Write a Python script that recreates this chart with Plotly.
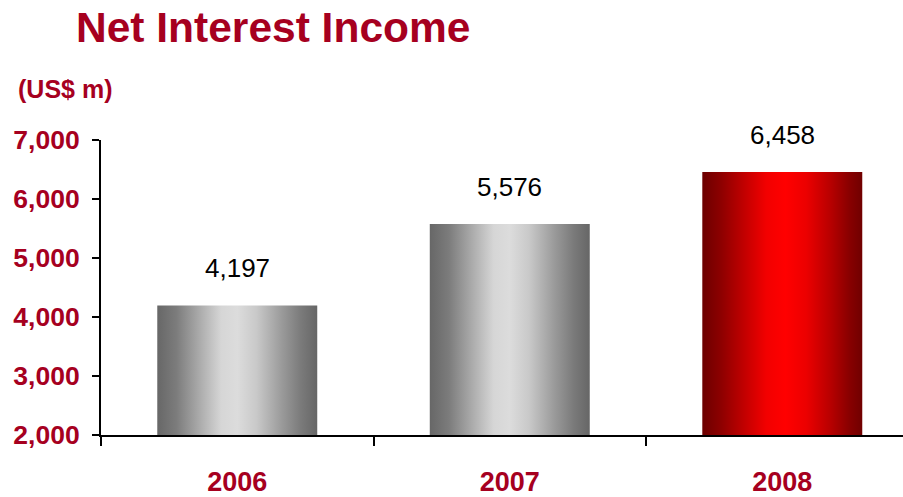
import plotly.graph_objects as go

# Net interest income by year (US$ m)
years = ["2006", "2007", "2008"]
income = [4197, 5576, 6458]
y_ticks = [2000, 3000, 4000, 5000, 6000, 7000]

DARK_RED = "#A6001F"
FONT = "Liberation Sans"
BAR_HALF = 0.2935
BASE = y_ticks[0]

grey_scale = [
    [0.0, "#676767"], [0.12, "#7c7c7c"], [0.28, "#b0b0b0"], [0.40, "#d6d6d6"],
    [0.50, "#dcdcdc"], [0.62, "#c9c9c9"], [0.78, "#9a9a9a"], [0.90, "#7a7a7a"],
    [1.0, "#666666"],
]
red_scale = [
    [0.0, "#6c0000"], [0.12, "#8e0000"], [0.28, "#c80000"], [0.40, "#f20000"],
    [0.52, "#ff0000"], [0.65, "#ec0000"], [0.80, "#b80000"], [0.92, "#880000"],
    [1.0, "#700000"],
]

fig = go.Figure()

# Cylinder-shaded bars: filled rectangles with a horizontal gradient
for i, (yr, val) in enumerate(zip(years, income)):
    scale = red_scale if yr == "2008" else grey_scale
    fig.add_trace(go.Scatter(
        x=[i - BAR_HALF, i + BAR_HALF, i + BAR_HALF, i - BAR_HALF, i - BAR_HALF],
        y=[BASE, BASE, val, val, BASE],
        mode="lines",
        line=dict(width=0),
        fill="toself",
        fillgradient=dict(type="horizontal", colorscale=scale),
        hoverinfo="skip",
        showlegend=False,
    ))
    fig.add_annotation(
        x=i, y=val, text=f"{val:,}", showarrow=False,
        yanchor="middle", yshift=37,
        font=dict(family=FONT, size=26, color="black"),
    )

fig.add_annotation(
    xref="paper", yref="paper", x=-0.106, y=1.174,
    xanchor="left", yanchor="middle", text="(US$ m)", showarrow=False,
    font=dict(family=FONT, size=25, color=DARK_RED, weight="bold"),
)

fig.update_layout(
    width=903, height=497,
    margin=dict(l=101, r=0, t=140, b=58),
    paper_bgcolor="white", plot_bgcolor="white",
    title=dict(
        text="Net Interest Income", x=76 / 903, xanchor="left",
        y=1 - 27 / 497, yanchor="middle",
        font=dict(family=FONT, size=42.5, color=DARK_RED, weight="bold"),
    ),
    xaxis=dict(
        range=[-0.5, 2.443],
        tickvals=list(range(len(years))), ticktext=years,
        ticks="", showgrid=False, zeroline=False,
        showline=True, linewidth=2, linecolor="black",
        ticklabelstandoff=22,
        tickfont=dict(family=FONT, size=27, color=DARK_RED, weight="bold"),
        minor=dict(tickvals=[-0.5, 0.5, 1.5, 2.5], ticks="outside",
                   ticklen=9, tickwidth=2, tickcolor="black"),
    ),
    yaxis=dict(
        range=[y_ticks[0], y_ticks[-1]], tickvals=y_ticks, tickformat=",",
        ticks="outside", ticklen=7, tickwidth=2, tickcolor="black",
        showgrid=False, zeroline=False,
        showline=True, linewidth=2, linecolor="black",
        ticklabelstandoff=7,
        tickfont=dict(family=FONT, size=26.5, color=DARK_RED, weight="bold"),
    ),
)

fig.write_html("out.html")
